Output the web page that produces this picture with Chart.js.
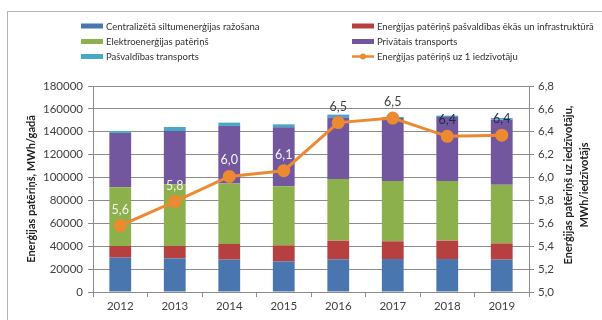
<!DOCTYPE html>
<html>
<head>
<meta charset="utf-8">
<script src="https://cdn.jsdelivr.net/npm/chart.js@4.4.1/dist/chart.umd.min.js"></script>
<style>
  html, body { margin: 0; padding: 0; background: #fff; }
  #wrap { position: relative; width: 602px; height: 320px; }
</style>
</head>
<body>
<div id="wrap"><canvas id="energyChart"></canvas></div>
<script>
// energy consumption by sector, MWh per year
const years = ['2012', '2013', '2014', '2015', '2016', '2017', '2018', '2019'];
const heatProduction     = [30000, 29400, 28300, 26800, 28600, 28800, 28800, 28300];
const municipalBuildings = [10200, 10800, 13700, 14000, 16300, 15500, 16100, 14200];
const electricity        = [51300, 53900, 52700, 51600, 53800, 52700, 52100, 51300];
const privateTransport   = [47500, 46600, 50400, 51500, 53700, 55000, 55900, 56800];
const municipalTransport = [1700, 3500, 2900, 2600, 2600, 900, 1200, 1400];
// MWh per resident
const perResident = [5.58, 5.79, 6.01, 6.06, 6.48, 6.52, 6.36, 6.37];

const seriesNames = [
  'Centralizētā siltumenerģijas ražošana',
  'Enerģijas patēriņš pašvaldības ēkās un infrastruktūrā',
  'Elektroenerģijas patēriņš',
  'Privātais transports',
  'Pašvaldības transports',
  'Enerģijas patēriņš uz 1 iedzīvotāju'
];
const leftAxisTitle = 'Enerģijas patēriņš, MWh/gadā';
const rightAxisTitle = ['Enerģijas patēriņš uz iedzīvotāju,', 'MWh/iedzīvotājs'];

const FONT = 'Lato, "Open Sans", sans-serif';
const colors = ['#4a76b0', '#b5403f', '#8cb04c', '#73579e', '#46a8c4', '#ec8a32'];
const labelColors = ['#f4f4f4', '#f4f4f4', '#f4f4f4', '#f4f4f4', '#404040', '#404040', '#1f2a44', '#1f2a44'];
const gridColor = '#8c8c8c';
const tickFont = { family: FONT, size: 11.5 };

const fmt1 = v => v.toFixed(1).replace('.', ',');

// grey frame round the whole chart
const framePlugin = {
  id: 'frame',
  beforeDraw(chart) {
    const ctx = chart.ctx;
    ctx.save();
    ctx.strokeStyle = '#b4b4b4';
    ctx.lineWidth = 1;
    ctx.strokeRect(7.5, 11.5, 700, 400);
    ctx.restore();
  }
};

// two-column legend at the top
const legendPlugin = {
  id: 'twoColLegend',
  afterDraw(chart) {
    const ctx = chart.ctx;
    const colX = [81, 352];
    const rowY = [26, 41.5, 56.5];
    ctx.save();
    ctx.font = '9.5px ' + FONT;
    ctx.textBaseline = 'middle';
    chart.data.datasets.forEach((ds, i) => {
      const x = colX[i % 2];
      const y = rowY[Math.floor(i / 2)];
      if (ds.type === 'line') {
        ctx.strokeStyle = ds.borderColor;
        ctx.lineWidth = 2.5;
        ctx.beginPath();
        ctx.moveTo(x, y);
        ctx.lineTo(x + 22, y);
        ctx.stroke();
        ctx.fillStyle = ds.borderColor;
        ctx.beginPath();
        ctx.arc(x + 11, y, 3, 0, Math.PI * 2);
        ctx.fill();
      } else {
        ctx.fillStyle = ds.backgroundColor;
        ctx.fillRect(x, y - 2.5, 22, 5);
      }
      ctx.fillStyle = '#303030';
      ctx.fillText(ds.label, x + 25, y + 0.5);
    });
    ctx.restore();
  }
};

// axis titles, both reading bottom to top
const axisTitlePlugin = {
  id: 'axisTitles',
  afterDraw(chart) {
    const ctx = chart.ctx;
    const area = chart.chartArea;
    const cy = (area.top + area.bottom) / 2;
    ctx.save();
    ctx.font = 'bold 11px ' + FONT;
    ctx.fillStyle = '#202020';
    ctx.textAlign = 'center';
    ctx.textBaseline = 'middle';
    ctx.translate(31, cy);
    ctx.rotate(-Math.PI / 2);
    ctx.fillText(leftAxisTitle, 0, 0);
    ctx.restore();

    ctx.save();
    ctx.font = 'bold 11px ' + FONT;
    ctx.fillStyle = '#202020';
    ctx.textAlign = 'center';
    ctx.textBaseline = 'middle';
    ctx.translate(568, cy - 4);
    ctx.rotate(-Math.PI / 2);
    ctx.fillText(rightAxisTitle[0], 0, 0);
    ctx.fillText(rightAxisTitle[1], 0, 16);
    ctx.restore();
  }
};

// per-resident values above the line points
const valueLabelPlugin = {
  id: 'valueLabels',
  afterDatasetsDraw(chart) {
    const idx = chart.data.datasets.findIndex(d => d.type === 'line');
    const meta = chart.getDatasetMeta(idx);
    const ctx = chart.ctx;
    ctx.save();
    ctx.font = '12.5px ' + FONT;
    ctx.textAlign = 'center';
    ctx.textBaseline = 'middle';
    meta.data.forEach((pt, i) => {
      ctx.fillStyle = labelColors[i];
      ctx.fillText(fmt1(perResident[i]), pt.x, pt.y - 16);
    });
    ctx.restore();
  }
};

const barSeries = [heatProduction, municipalBuildings, electricity, privateTransport, municipalTransport];

new Chart('energyChart', {
  type: 'bar',
  data: {
    labels: years,
    datasets: [
      ...barSeries.map((vals, i) => ({
        label: seriesNames[i],
        data: vals,
        backgroundColor: colors[i],
        yAxisID: 'y',
        order: 1
      })),
      {
        type: 'line',
        label: seriesNames[5],
        data: perResident,
        yAxisID: 'y1',
        borderColor: colors[5],
        backgroundColor: colors[5],
        borderWidth: 3,
        pointRadius: 5,
        pointBackgroundColor: colors[5],
        pointBorderColor: colors[5],
        order: 0
      }
    ]
  },
  options: {
    responsive: true,
    maintainAspectRatio: false,
    animation: false,
    layout: { padding: { top: 86, left: 0, right: 0, bottom: 0 } },
    datasets: { bar: { barPercentage: 0.4, categoryPercentage: 1 } },
    plugins: { legend: { display: false }, tooltip: { enabled: false } },
    scales: {
      x: {
        stacked: true,
        grid: { offset: true, drawOnChartArea: false, tickLength: 5, color: gridColor },
        border: { color: gridColor },
        ticks: { color: '#404040', font: tickFont, padding: 2 },
        afterFit: s => { s.height = 28; }
      },
      y: {
        stacked: true,
        min: 0,
        max: 180000,
        grid: { color: gridColor, tickLength: 5 },
        border: { color: gridColor },
        ticks: { stepSize: 20000, color: '#404040', font: tickFont, padding: 5, callback: v => String(v) },
        afterFit: s => { s.width = 93; }
      },
      y1: {
        position: 'right',
        min: 5,
        max: 6.8,
        grid: { drawOnChartArea: false, color: gridColor, tickLength: 5 },
        border: { color: gridColor },
        ticks: { stepSize: 0.2, color: '#404040', font: tickFont, padding: 4, callback: v => fmt1(v) },
        afterFit: s => { s.width = 73; }
      }
    }
  },
  plugins: [framePlugin, legendPlugin, axisTitlePlugin, valueLabelPlugin]
});
</script>
</body>
</html>
